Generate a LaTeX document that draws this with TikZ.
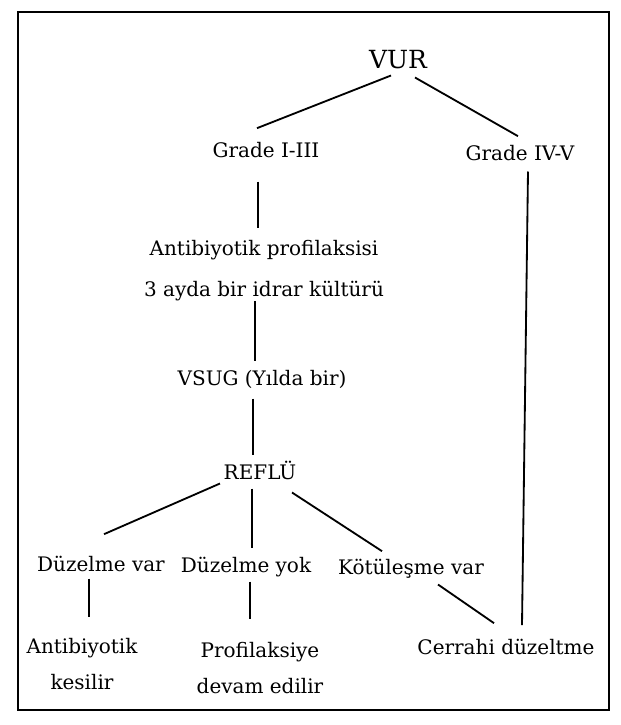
\documentclass[tikz,border=0pt]{standalone}
\usepackage{fontspec}
\setmainfont{DejaVu Serif}

\tikzset{
  txt/.style={inner sep=0pt, anchor=base, text height=0.75em, text depth=0.25em,
    font=\fontsize{12}{14}\selectfont},
  twoline/.style={inner sep=0pt, anchor=north, align=center,
    font=\fontsize{12}{21.6}\selectfont},
  link/.style={line width=1.1pt}
}

\begin{document}
\begin{tikzpicture}[x=0.6pt,y=-0.6pt]
\useasboundingbox (0,0) rectangle (621,725);
\draw[line width=1.3pt] (18,12) rectangle (609,710);

\node[txt,font=\fontsize{15}{17}\selectfont] (vur) at (398,68) {VUR};
\node[txt] (g13) at (266,157) {Grade I-III};
\node[txt] (g45) at (520,160) {Grade IV-V};

\node[twoline,font=\fontsize{12}{24.6}\selectfont] (ap) at (264,240) {Antibiyotik profilaksisi\\3 ayda bir idrar kültürü};
\node[txt] (vsug) at (262,385) {VSUG (Yılda bir)};
\node[txt] (refl) at (260,479) {REFLÜ};

\node[txt] (dv) at (101,571) {Düzelme var};
\node[txt] (dy) at (246,572) {Düzelme yok};
\node[txt] (kv) at (411,574) {Kötüleşme var};

\node[twoline] (ak) at (82,638) {Antibiyotik\\kesilir};
\node[twoline] (pd) at (260,642) {Profilaksiye\\devam edilir};
\node[txt] (cd) at (506,654) {Cerrahi düzeltme};

\draw[link] ([shift={(-7,3)}]vur.south) -- ([shift={(-9,-16)}]g13.north);
\draw[link] ([shift={(17,5)}]vur.south) -- ([shift={(-2,-11)}]g45.north);
\draw[link] ([shift={(-8,20)}]g13.south) -- ([shift={(-6,-12)}]ap.north);
\draw[link] ([shift={(-9,0)}]ap.south) -- ([shift={(-7,-11)}]vsug.north);
\draw[link] ([shift={(-9,9)}]vsug.south) -- ([shift={(-7,-11)}]refl.north);

\draw[link] ([shift={(-40,0)}]refl.south) -- ([shift={(3,-24)}]dv.north);
\draw[link] ([shift={(-8,5)}]refl.south) -- ([shift={(6,-11)}]dy.north);
\draw[link] ([shift={(32,9)}]refl.south) -- ([shift={(-29,-10)}]kv.north);

\draw[link] ([shift={(-12,3)}]dv.south) -- ([shift={(7,-21)}]ak.north);
\draw[link] ([shift={(4,5)}]dy.south) -- ([shift={(-10,-23)}]pd.north);
\draw[link] ([shift={(27,6)}]kv.south) -- ([shift={(-12,-18)}]cd.north);
\draw[link] ([shift={(8,7)}]g45.south) -- ([shift={(16,-16)}]cd.north);
\end{tikzpicture}
\end{document}
